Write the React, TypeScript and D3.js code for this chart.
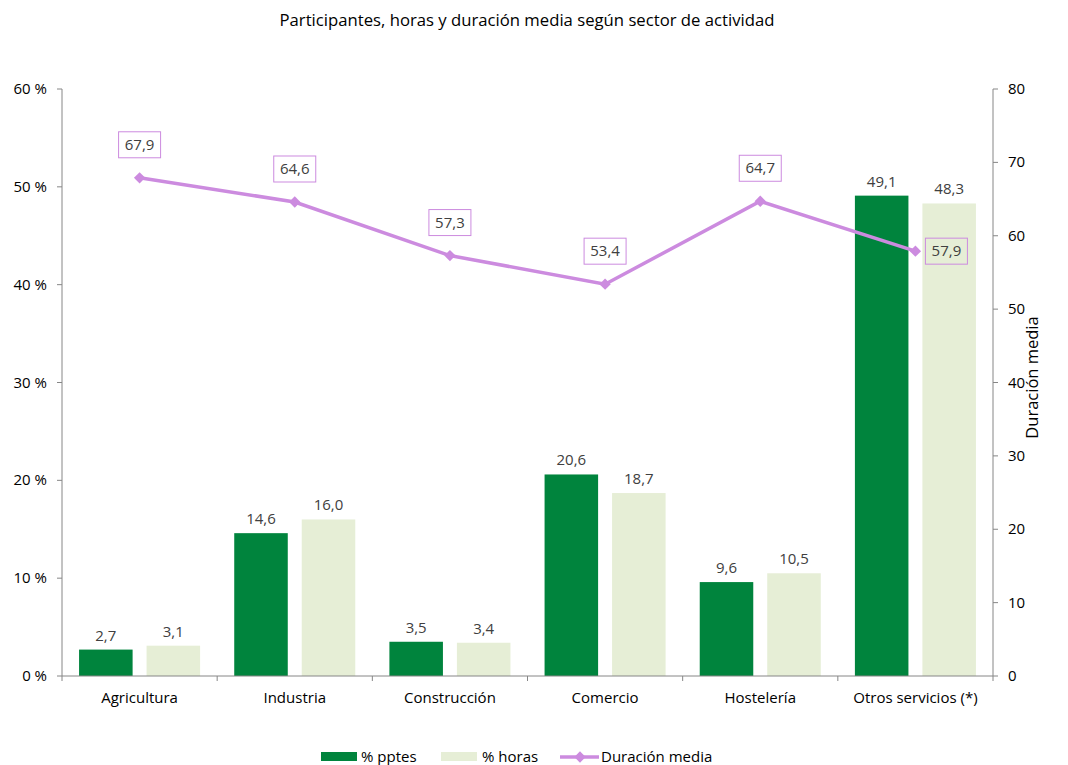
import React from "react";
import * as d3 from "d3";

const categories = ["Agricultura", "Industria", "Construcción", "Comercio", "Hostelería", "Otros servicios (*)"];
const pptes = [2.7, 14.6, 3.5, 20.6, 9.6, 49.1];
const horas = [3.1, 16.0, 3.4, 18.7, 10.5, 48.3];
const duracion = [67.9, 64.6, 57.3, 53.4, 64.7, 57.9];
const leftTicks = [0, 10, 20, 30, 40, 50, 60];
const rightTicks = [0, 10, 20, 30, 40, 50, 60, 70, 80];

const W = 1068, H = 765;
const left = 62, right = 993, top = 89, bottom = 676;
const DARK = "#00843D";
const LIGHT = "#E6EED6";
const PURPLE = "#CC8BDF";
const AXIS = "#868686";
const TXT = "#404040";
const FONT = "'Open Sans', Lato, sans-serif";
const FS = 15;

const fmt = (v: number) => v.toFixed(1).replace(".", ",");

export default function App() {
  const x = d3.scaleBand<string>().domain(categories).range([left, right]).paddingInner(0).paddingOuter(0);
  const yL = d3.scaleLinear().domain([0, 60]).range([bottom, top]);
  const yR = d3.scaleLinear().domain([0, 80]).range([bottom, top]);
  const bw = x.bandwidth();
  const barW = bw * 0.345;
  const gap = bw * 0.09;
  const outer = (bw - 2 * barW - gap) / 2;
  const cx = (c: string) => (x(c) as number) + bw / 2;
  const line = d3.line<number>().x((_, i) => cx(categories[i])).y((d) => yR(d));

  return (
    <svg width={W} height={H} style={{ position: "absolute", left: 0, top: 0, fontFamily: FONT }}>
      <rect width={W} height={H} fill="#fff" />
      <text x={527} y={26} textAnchor="middle" fontSize={16.7} fill="#000">
        Participantes, horas y duración media según sector de actividad
      </text>

      {/* bars */}
      {categories.map((c, i) => {
        const x0 = (x(c) as number) + outer;
        const x1 = x0 + barW + gap;
        return (
          <g key={c}>
            <rect x={x0} y={yL(pptes[i])} width={barW} height={bottom - yL(pptes[i])} fill={DARK} />
            <rect x={x1} y={yL(horas[i])} width={barW} height={bottom - yL(horas[i])} fill={LIGHT} />
            <text x={x0 + barW / 2} y={yL(pptes[i]) - 9} textAnchor="middle" fontSize={FS} fill={TXT}>
              {fmt(pptes[i])}
            </text>
            <text x={x1 + barW / 2} y={yL(horas[i]) - 9} textAnchor="middle" fontSize={FS} fill={TXT}>
              {fmt(horas[i])}
            </text>
          </g>
        );
      })}

      {/* axes */}
      <line x1={left} y1={top} x2={left} y2={bottom} stroke={AXIS} />
      <line x1={right} y1={top} x2={right} y2={bottom} stroke={AXIS} />
      <line x1={left} y1={bottom} x2={right} y2={bottom} stroke={AXIS} />
      {leftTicks.map((t) => (
        <g key={"l" + t}>
          <line x1={left - 5} x2={left} y1={yL(t)} y2={yL(t)} stroke={AXIS} />
          <text x={47} y={yL(t) + 5} textAnchor="end" fontSize={FS} fill="#000">{t} %</text>
        </g>
      ))}
      {rightTicks.map((t) => (
        <g key={"r" + t}>
          <line x1={right} x2={right + 5} y1={yR(t)} y2={yR(t)} stroke={AXIS} />
          <text x={1008} y={yR(t) + 5} textAnchor="start" fontSize={FS} fill="#000">{t}</text>
        </g>
      ))}
      {categories.map((c) => (
        <line key={"t" + c} x1={x(c) as number} x2={x(c) as number} y1={bottom} y2={bottom + 5} stroke={AXIS} />
      ))}
      <line x1={right} x2={right} y1={bottom} y2={bottom + 5} stroke={AXIS} />
      {categories.map((c) => (
        <text key={"x" + c} x={cx(c)} y={703} textAnchor="middle" fontSize={FS} fill="#000">{c}</text>
      ))}
      <text transform={`translate(1038,${(top + bottom) / 2 - 5}) rotate(-90)`} textAnchor="middle" fontSize={16.5} fill="#000">
        Duración media
      </text>

      {/* line */}
      <path d={line(duracion) || ""} fill="none" stroke={PURPLE} strokeWidth={3.5} />
      {duracion.map((d, i) => {
        const px = cx(categories[i]);
        const py = yR(d);
        return (
          <rect key={"m" + i} x={px - 4} y={py - 4} width={8} height={8} fill={PURPLE}
            transform={`rotate(45 ${px} ${py})`} />
        );
      })}
      {duracion.map((d, i) => {
        const px = cx(categories[i]);
        const py = yR(d);
        const last = i === duracion.length - 1;
        const bwid = 42, bh = 26;
        const bx = last ? px + 10 : px - bwid / 2;
        const by = last ? py - bh / 2 : py - 20 - bh;
        return (
          <g key={"lb" + i}>
            <rect x={bx} y={by} width={bwid} height={bh} fill={last ? "none" : "#fff"} stroke={PURPLE} strokeWidth={1} />
            <text x={bx + bwid / 2} y={by + bh / 2 + 5} textAnchor="middle" fontSize={FS} fill={TXT}>{fmt(d)}</text>
          </g>
        );
      })}

      {/* legend */}
      <rect x={321} y={752} width={36} height={9} fill={DARK} />
      <text x={361} y={762} fontSize={FS} fill="#000">% pptes</text>
      <rect x={441} y={752} width={36} height={9} fill={LIGHT} />
      <text x={482} y={762} fontSize={FS} fill="#000">% horas</text>
      <line x1={560} x2={599} y1={757} y2={757} stroke={PURPLE} strokeWidth={3.5} />
      <rect x={576} y={753} width={8} height={8} fill={PURPLE} transform="rotate(45 580 757)" />
      <text x={601} y={762} fontSize={FS} fill="#000">Duración media</text>
    </svg>
  );
}
